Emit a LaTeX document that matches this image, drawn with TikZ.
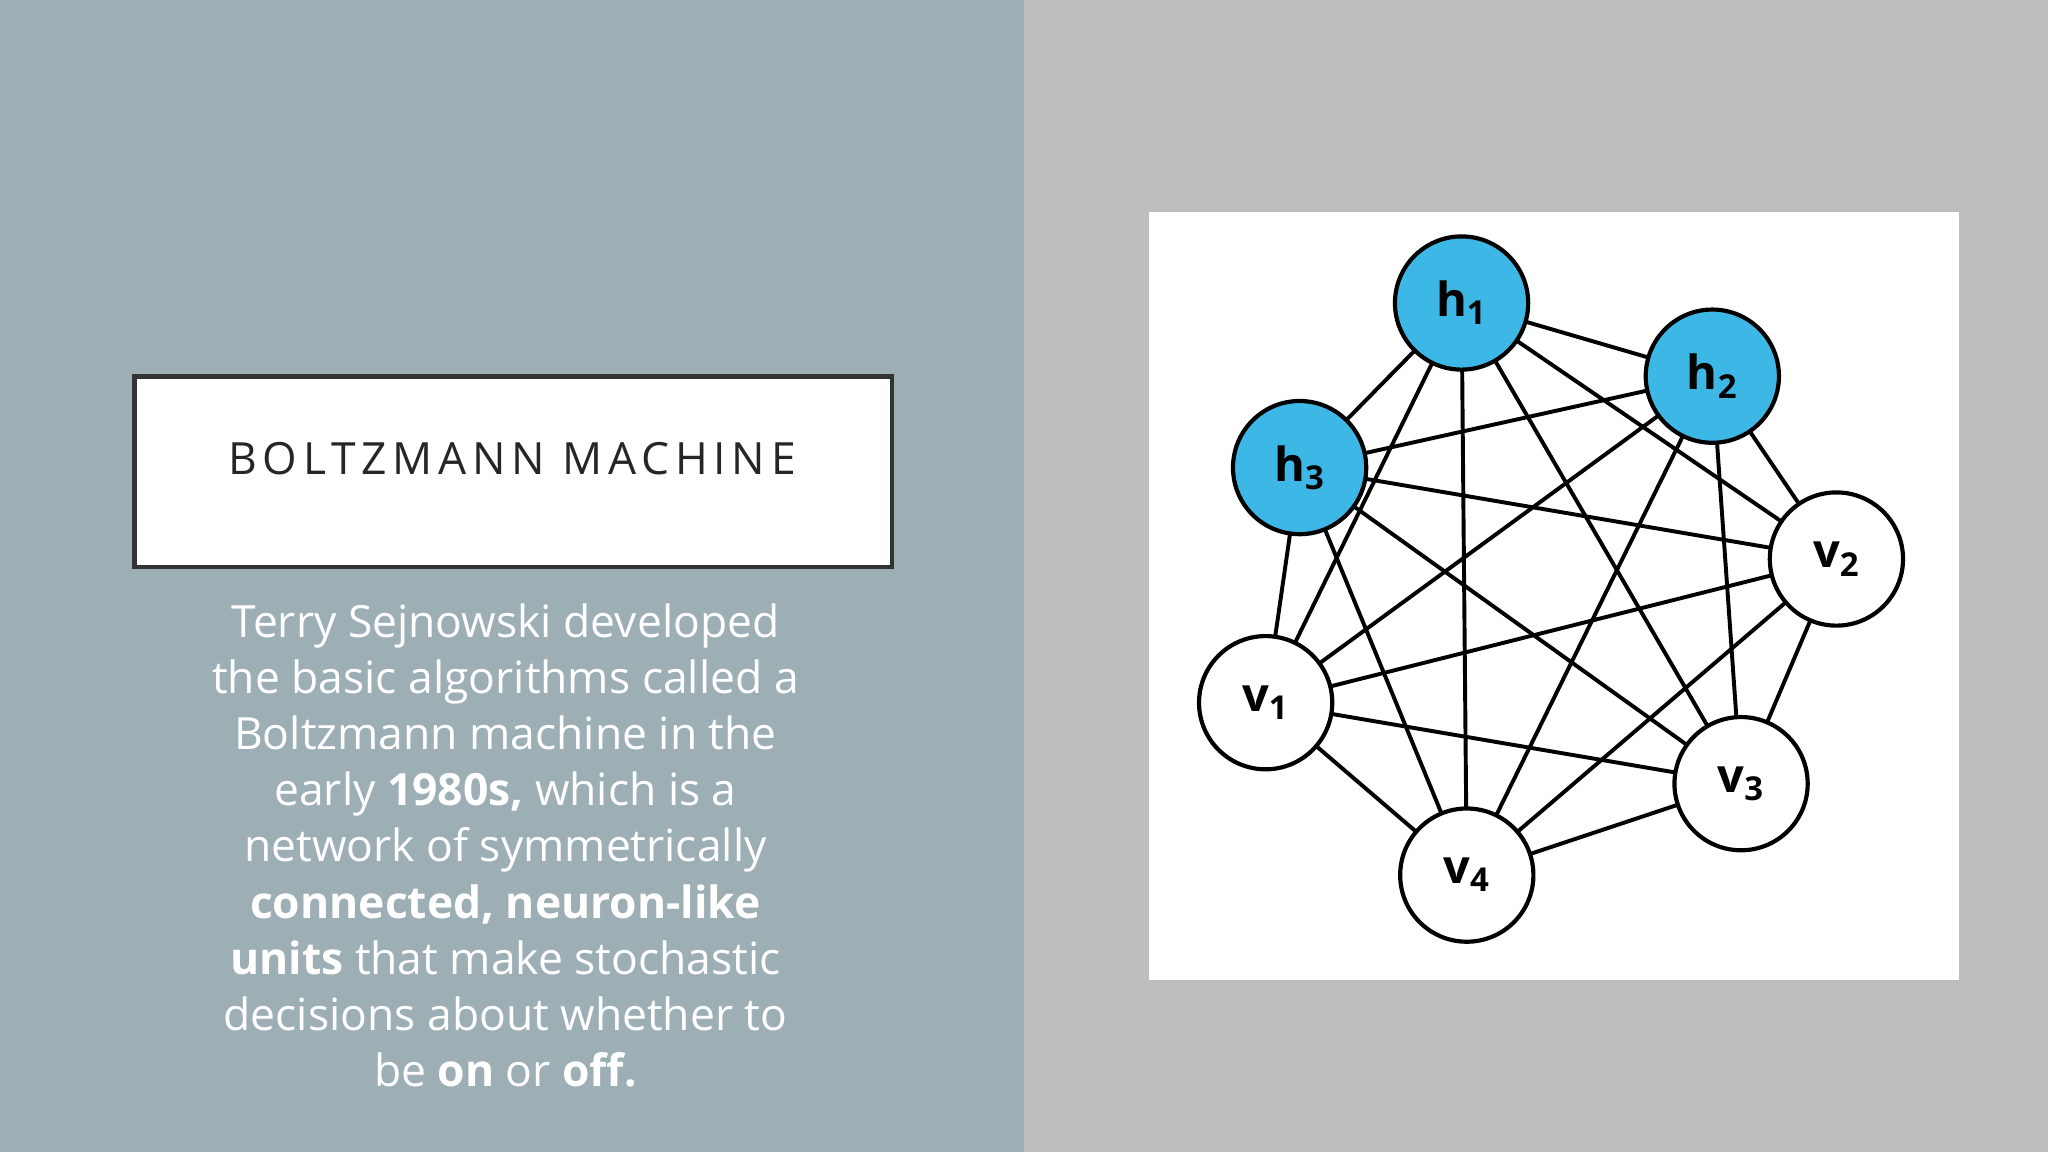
\documentclass[tikz,border=0pt]{standalone}
\usepackage{fontspec}
\setmainfont{Open Sans}
\definecolor{leftbg}{HTML}{9DAEB5}
\definecolor{rightbg}{HTML}{BEBFBD}
\definecolor{hblue}{HTML}{3DB8E6}
\begin{document}
\begin{tikzpicture}[x=0.5pt,y=-0.5pt,
  unit/.style={circle,draw=black,line width=1.6pt,minimum size=51pt,inner sep=0pt,font=\fontsize{18}{18}\selectfont\bfseries},
  hid/.style={unit,fill=hblue},
  vis/.style={unit,fill=white},
  edge/.style={line width=1.5pt,black}]
\useasboundingbox (0,0) rectangle (1568,882);
\fill[leftbg] (0,0) rectangle (784,882);
\fill[rightbg] (784,0) rectangle (1568,882);
\node[draw=black!80,line width=1.8pt,fill=white,minimum width=290pt,minimum height=73pt,inner sep=0pt] (title) at (393,361) {};
\node[font=\fontsize{17}{17}\selectfont\addfontfeature{LetterSpace=13},text=black!85] (tt) at (392,351) {BOLTZMANN MACHINE};
\node[text=white,align=center,font=\fontsize{17}{21.5}\selectfont,anchor=north] (body) at (387,455) {Terry Sejnowski developed\\the basic algorithms called a\\Boltzmann machine in the\\early \textbf{1980s,} which is a\\network of symmetrically\\\textbf{connected, neuron-like}\\\textbf{units} that make stochastic\\decisions about whether to\\be \textbf{on} or \textbf{off.}};
\fill[white] (880,162) rectangle (1500,750);
\coordinate (h1) at (1119,232);
\coordinate (h2) at (1311,288);
\coordinate (h3) at (995,358);
\coordinate (v2) at (1406,428);
\coordinate (v1) at (969,538);
\coordinate (v3) at (1333,600);
\coordinate (v4) at (1123,670);
\foreach \a/\b in {h1/h2,h1/h3,h1/v1,h1/v2,h1/v3,h1/v4,h2/h3,h2/v1,h2/v2,h2/v3,h2/v4,h3/v1,h3/v2,h3/v3,h3/v4,v1/v2,v1/v3,v1/v4,v2/v3,v2/v4,v3/v4}
  \draw[edge] (\a) -- (\b);
\node[hid] (n1) at (h1) {h$_{\mathbf 1}$};
\node[hid] (n2) at (h2) {h$_{\mathbf 2}$};
\node[hid] (n3) at (h3) {h$_{\mathbf 3}$};
\node[vis] (m2) at (v2) {v$_{\mathbf 2}$};
\node[vis] (m1) at (v1) {v$_{\mathbf 1}$};
\node[vis] (m3) at (v3) {v$_{\mathbf 3}$};
\node[vis] (m4) at (v4) {v$_{\mathbf 4}$};
\end{tikzpicture}
\end{document}
